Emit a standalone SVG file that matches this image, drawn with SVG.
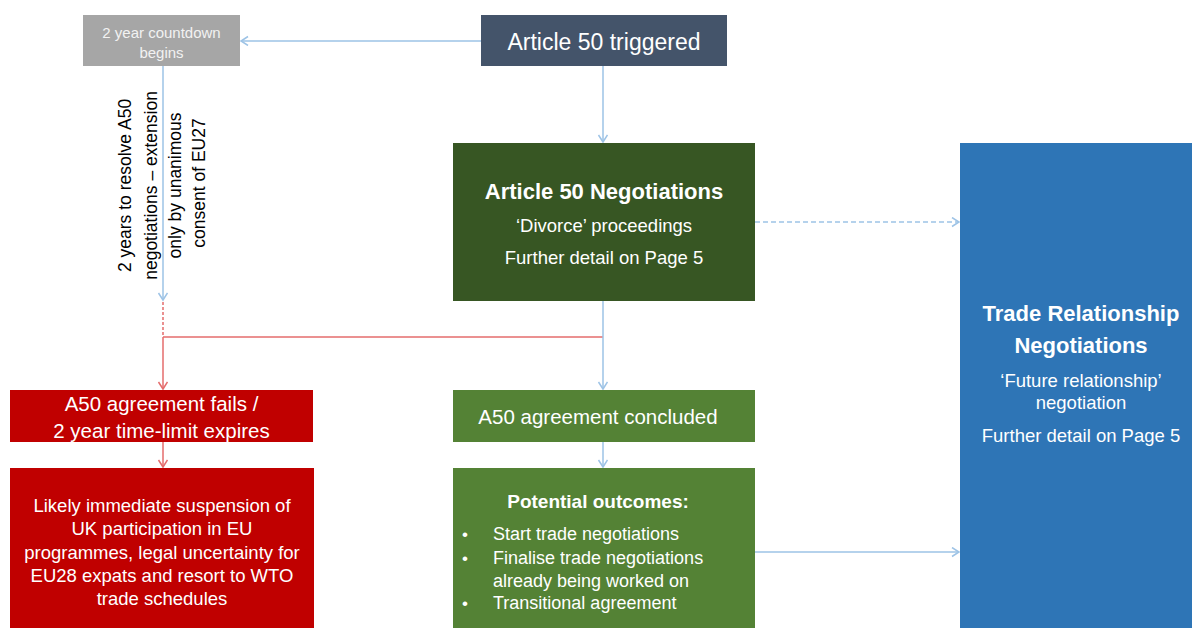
<svg xmlns="http://www.w3.org/2000/svg" width="1192" height="628" viewBox="0 0 1192 628">
<style>
text{font-family:"Liberation Sans",Arial,sans-serif;fill:#ffffff;dominant-baseline:central}
.c{text-anchor:middle}
.b{font-weight:bold}
.blue{stroke:#9dc3e6;stroke-width:1.5;fill:none}
.red{stroke:#e46c6c;stroke-width:1.5;fill:none}
</style>
<defs>
<marker id="ab" markerUnits="userSpaceOnUse" markerWidth="12" markerHeight="12" refX="8" refY="5" orient="auto">
<path d="M1,0.5 L8,5 L1,9.5" fill="none" stroke="#9dc3e6" stroke-width="1.5"/>
</marker>
<marker id="ar" markerUnits="userSpaceOnUse" markerWidth="12" markerHeight="12" refX="8" refY="5" orient="auto">
<path d="M1,0.5 L8,5 L1,9.5" fill="none" stroke="#e46c6c" stroke-width="1.5"/>
</marker>
</defs>
<rect width="1192" height="628" fill="#ffffff"/>
<g id="connectors">
<path class="blue" d="M481,41 H241" marker-end="url(#ab)"/>
<path class="blue" d="M603,66 V142" marker-end="url(#ab)"/>
<path class="blue" d="M755,222 H959" stroke-dasharray="5 3" marker-end="url(#ab)"/>
<path class="blue" d="M163,66 V300" marker-end="url(#ab)"/>
<path class="red" d="M163,302 V337" stroke-dasharray="3 2"/>
<path class="red" d="M163,337 H603"/>
<path class="red" d="M163,337 V389" marker-end="url(#ar)"/>
<path class="red" d="M163,442 V467" marker-end="url(#ar)"/>
<path class="blue" d="M603,301 V389" marker-end="url(#ab)"/>
<path class="blue" d="M603,442 V467" marker-end="url(#ab)"/>
<path class="blue" d="M755,552 H959" marker-end="url(#ab)"/>
</g>
<g id="countdown">
<rect x="83" y="15" width="157" height="51" fill="#a6a6a6"/>
<text class="c" x="161.5" y="32" font-size="15" style="fill:#f2f2f2">2 year countdown</text>
<text class="c" x="161.5" y="52" font-size="15" style="fill:#f2f2f2">begins</text>
</g>
<g id="countdown-label">
<text transform="translate(163,183) rotate(-90)" font-size="17.5" style="fill:#000000">
<tspan class="c" x="0" y="-38">2 years to resolve A50</tspan>
<tspan class="c" x="0" y="-12">negotiations – extension</tspan>
<tspan class="c" x="0" y="12">only by unanimous</tspan>
<tspan class="c" x="0" y="36">consent of EU27</tspan>
</text>
</g>
<g id="triggered">
<rect x="481" y="15" width="246" height="51" fill="#44546a"/>
<text class="c" x="604" y="42" font-size="23">Article 50 triggered</text>
</g>
<g id="negotiations">
<rect x="453" y="143" width="302" height="158" fill="#375623"/>
<text class="c b" x="604" y="191" font-size="22">Article 50 Negotiations</text>
<text class="c" x="604" y="225" font-size="18.5">‘Divorce’ proceedings</text>
<text class="c" x="604" y="257" font-size="18.5">Further detail on Page 5</text>
</g>
<g id="trade">
<rect x="960" y="143" width="240" height="490" fill="#2e75b6"/>
<text class="c b" x="1081" y="313" font-size="22">Trade Relationship</text>
<text class="c b" x="1081" y="345" font-size="22">Negotiations</text>
<text class="c" x="1081" y="380" font-size="18.5">‘Future relationship’</text>
<text class="c" x="1081" y="402" font-size="18.5">negotiation</text>
<text class="c" x="1081" y="435" font-size="18.5">Further detail on Page 5</text>
</g>
<g id="fails">
<rect x="10" y="390" width="303" height="52" fill="#c00000"/>
<text class="c" x="161.5" y="403" font-size="20.5">A50 agreement fails /</text>
<text class="c" x="161.5" y="430" font-size="20.5">2 year time-limit expires</text>
</g>
<g id="suspension">
<rect x="10" y="468" width="304" height="165" fill="#c00000"/>
<text class="c" x="162" y="505" font-size="18.5">Likely immediate suspension of</text>
<text class="c" x="162" y="528" font-size="18.5">UK participation in EU</text>
<text class="c" x="162" y="552" font-size="18.5">programmes, legal uncertainty for</text>
<text class="c" x="162" y="575" font-size="18.5">EU28 expats and resort to WTO</text>
<text class="c" x="162" y="598" font-size="18.5">trade schedules</text>
</g>
<g id="concluded">
<rect x="453" y="390" width="302" height="52" fill="#548235"/>
<text class="c" x="598" y="416" font-size="20.5">A50 agreement concluded</text>
</g>
<g id="outcomes">
<rect x="453" y="468" width="302" height="165" fill="#548235"/>
<text class="c b" x="598" y="501" font-size="19">Potential outcomes:</text>
<text x="462" y="534" font-size="17">•</text>
<text x="493" y="534" font-size="18">Start trade negotiations</text>
<text x="462" y="558" font-size="17">•</text>
<text x="493" y="558" font-size="18">Finalise trade negotiations</text>
<text x="493" y="581" font-size="18">already being worked on</text>
<text x="462" y="603" font-size="17">•</text>
<text x="493" y="603" font-size="18">Transitional agreement</text>
</g>
</svg>
